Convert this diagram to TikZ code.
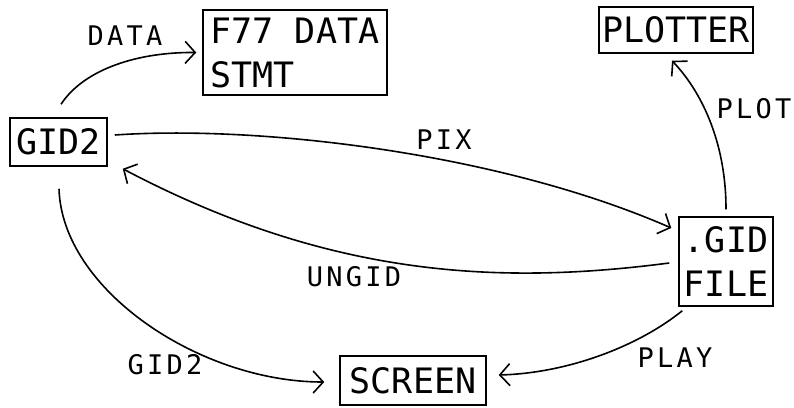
\documentclass[tikz,border=0pt]{standalone}
\usepackage{fontspec}
\usetikzlibrary{arrows.meta}
\newfontfamily\boxfont{DejaVu Sans Mono}
\newfontfamily\lblfont[LetterSpace=12]{DejaVu Sans Mono}
\begin{document}
\begin{tikzpicture}[x=1pt,y=-1pt,
  box/.style={draw,line width=1.5pt,inner sep=0pt,align=left,
    font=\boxfont\fontsize{35pt}{44pt}\selectfont},
  lbl/.style={inner sep=0pt,font=\lblfont\fontsize{27pt}{30pt}\selectfont},
  arr/.style={line width=1.6pt,-{Straight Barb[length=10pt,width=22pt,line width=1.6pt]}}]
\useasboundingbox (0,0) rectangle (794,407);
% boxes
\node[box,minimum width=184pt,minimum height=85pt] (f77) at (295,52.5) {F77 DATA\\STMT};
\node[box,minimum width=97pt,minimum height=48pt] (gid2) at (58.5,142) {GID2};
\node[box,minimum width=154pt,minimum height=46pt] (plotter) at (676,30) {PLOTTER};
\node[box,minimum width=94pt,minimum height=89pt] (gidf) at (726,261.5) {.GID\\FILE};
\node[box,minimum width=146pt,minimum height=49pt] (screen) at (413,380.5) {SCREEN};
% labels
\node[lbl] (ldata) at (125,36) {DATA};
\node[lbl] (lpix) at (444,139.5) {PIX};
\node[lbl] (lplot) at (754,109) {PLOT};
\node[lbl] (lungid) at (354,277) {UNGID};
\node[lbl] (lgid) at (165,365) {GID2};
\node[lbl] (lplay) at (675,358) {PLAY};
% connectors
\draw[arr] ([xshift=2.5pt,yshift=13pt]gid2.north) .. controls (85,68) and (140,52) .. ([xshift=-6pt]f77.west);
\draw[arr] ([xshift=7pt,yshift=7pt]gid2.east) .. controls (260,125) and (500,153) .. ([xshift=-7pt,yshift=33.5pt]gidf.west);
\draw[arr] ([xshift=-9pt,yshift=-1.5pt]gidf.west) .. controls (500,285) and (330,278) .. ([xshift=15pt,yshift=-2pt]gid2.south east);
\draw[arr] ([xshift=0.5pt,yshift=-22pt]gid2.south) .. controls (62,290) and (200,382) .. ([xshift=-15pt,yshift=-1.5pt]screen.west);
\draw[arr] ([xshift=4pt,yshift=-4pt]gidf.south west) .. controls (640,345) and (570,373) .. ([xshift=12pt,yshift=5.5pt]screen.east);
\draw[arr] ([yshift=7pt]gidf.north) .. controls (726,140) and (700,90) .. ([xshift=-4pt,yshift=-7pt]plotter.south);
\end{tikzpicture}
\end{document}
